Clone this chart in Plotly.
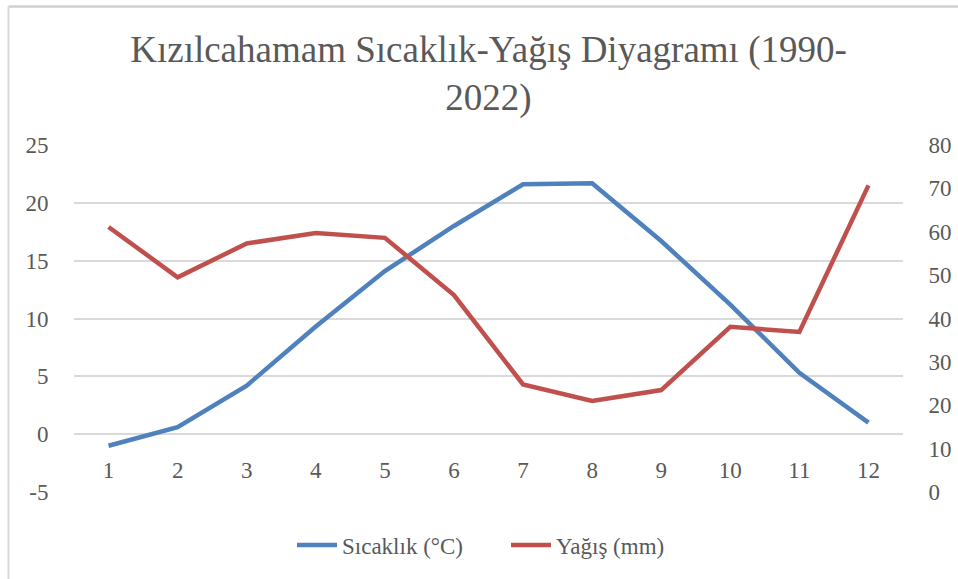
import plotly.graph_objects as go

months = ["1", "2", "3", "4", "5", "6", "7", "8", "9", "10", "11", "12"]
temperature = [-1.0, 0.6, 4.2, 9.3, 14.1, 18.0, 21.6, 21.7, 16.7, 11.2, 5.3, 1.0]
precipitation = [61.1, 49.5, 57.3, 59.7, 58.6, 45.4, 24.8, 21.0, 23.5, 38.1, 36.9, 70.7]

left_ticks = [-5, 0, 5, 10, 15, 20, 25]
left_tick_labels = ["-5", "0", "5", "10", "15", "20", "25"]
right_ticks = [0, 10, 20, 30, 40, 50, 60, 70, 80]
right_tick_labels = ["0", "10", "20", "30", "40", "50", "60", "70", "80"]

title_text = "Kızılcahamam Sıcaklık-Yağış Diyagramı (1990-<br>2022)"
temp_name = "Sıcaklık (°C)"
prec_name = "Yağış (mm)"

FONT = "Liberation Serif"
GRAY = "#595959"
TS = 23

fig = go.Figure()
fig.add_trace(go.Scatter(x=months, y=temperature, name=temp_name, mode="lines",
                         line=dict(color="#4f81bd", width=4.5), yaxis="y"))
fig.add_trace(go.Scatter(x=months, y=precipitation, name=prec_name, mode="lines",
                         line=dict(color="#c0504d", width=4.5), yaxis="y2"))

fig.update_layout(
    width=958, height=579,
    margin=dict(l=74, r=55, t=145, b=87, autoexpand=False),
    paper_bgcolor="white", plot_bgcolor="white",
    font=dict(family=FONT, color=GRAY, size=TS),
    title=dict(text=title_text, x=0.5, xref="paper", xanchor="center",
               y=0.893, yref="container", yanchor="top",
               font=dict(family=FONT, size=37, color=GRAY)),
    xaxis=dict(type="category", range=[-0.5, 11.5], anchor="free",
               position=(492 - 434.7) / 347, showgrid=False, showline=False,
               zeroline=False, ticks="outside", ticklen=0,
               ticklabelstandoff=15, tickfont=dict(size=TS, color=GRAY)),
    yaxis=dict(range=[-5, 25], tickmode="array", tickvals=left_ticks,
               ticktext=left_tick_labels, showgrid=True,
               gridcolor="#d9d9d9", gridwidth=1.5, zeroline=False,
               showline=False, ticks="outside", ticklen=0,
               ticklabelstandoff=20, tickfont=dict(size=TS, color=GRAY)),
    yaxis2=dict(range=[0, 80], tickmode="array", tickvals=right_ticks,
                ticktext=right_tick_labels, overlaying="y", side="right",
                showgrid=False, zeroline=False, showline=False,
                ticks="outside", ticklen=0, ticklabelstandoff=20,
                tickfont=dict(size=TS, color=GRAY)),
    legend=dict(orientation="h", x=(297 - 74 - 5) / 829, xanchor="left",
                y=(492 - 545) / 347, yanchor="middle",
                font=dict(size=TS, color=GRAY), itemwidth=40,
                entrywidth=159, bgcolor="rgba(0,0,0,0)"),
    showlegend=True,
)

bx = (8.5 - 74) / 829
by = (492 - 6.5) / 347
fig.add_shape(type="line", xref="paper", yref="paper",
              x0=bx, x1=1.1, y0=by, y1=by,
              line=dict(color="#cfcfcf", width=2.5), layer="above")
fig.add_shape(type="line", xref="paper", yref="paper",
              x0=bx, x1=bx, y0=-0.4, y1=by,
              line=dict(color="#d9d9d9", width=2), layer="above")

fig.write_html("out.html", config={"displayModeBar": False},
               post_script="document.body.style.margin='0';")
